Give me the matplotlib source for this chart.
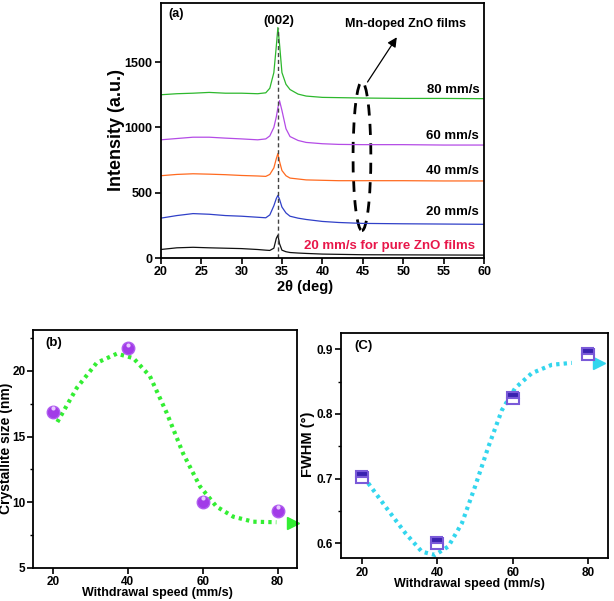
import matplotlib
matplotlib.use("Agg")
import matplotlib.pyplot as plt
from matplotlib.patches import Ellipse
from matplotlib.ticker import MultipleLocator
import numpy as np

plt.rcParams['font.family'] = ['Liberation Sans', 'DejaVu Sans']
plt.rcParams['font.weight'] = 'bold'

# ---- (a) XRD patterns ----
two_theta = [20, 22, 24, 26, 28, 30, 32, 33, 33.5, 34, 34.3, 34.5, 34.7, 35, 35.5,
             36, 37, 38, 40, 42, 45, 50, 55, 60]
xrd_80 = [1250, 1258, 1262, 1268, 1262, 1262, 1258, 1265, 1300, 1420, 1620, 1765, 1640,
          1420, 1330, 1290, 1255, 1240, 1230, 1228, 1225, 1222, 1222, 1220]
xrd_60 = [905, 915, 925, 925, 918, 912, 905, 912, 935, 1000, 1080, 1150, 1205,
          1130, 990, 930, 900, 885, 875, 870, 868, 868, 865, 865]
xrd_40 = [630, 640, 645, 642, 638, 632, 628, 625, 640, 690, 760, 800, 740,
          670, 630, 612, 605, 598, 595, 592, 592, 592, 590, 590]
xrd_20 = [305, 325, 340, 335, 325, 320, 312, 308, 330, 400, 455, 480, 450,
          390, 345, 320, 305, 295, 280, 272, 265, 262, 260, 258]
xrd_pure = [65, 78, 82, 78, 75, 72, 65, 60, 58, 75, 150, 175, 110,
            60, 48, 42, 38, 35, 30, 28, 25, 24, 23, 22]
trace_labels = ['80 mm/s', '60 mm/s', '40 mm/s', '20 mm/s']
trace_label_y = [1286, 934, 668, 352]

# ---- (b) crystallite size ----
speed = [20, 40, 60, 80]
cryst_size = [16.9, 21.7, 10.05, 9.36]
trend_b_x = [21.2, 26.4, 31.7, 37.1, 41.5, 45.9, 50.4, 54.8, 59.3, 63.7, 68.2, 73.5, 79.7]
trend_b_y = [16.1, 18.7, 20.6, 21.3, 20.96, 19.6, 16.8, 13.7, 11.2, 9.67, 8.9, 8.52, 8.48]
tip_b = (84.2, 8.45)

# ---- (c) FWHM ----
fwhm = [0.703, 0.601, 0.825, 0.892]
trend_c_x = [21.7, 27.0, 31.5, 35.9, 39.4, 42.9, 46.5, 50.0, 53.5, 57.1, 60.6, 65.0, 70.3, 75.6]
trend_c_y = [0.693, 0.651, 0.616, 0.587, 0.582, 0.595, 0.631, 0.688, 0.749, 0.806, 0.84,
             0.863, 0.876, 0.879]
tip_c = (82.7, 0.879)

W, H = 614, 601
fig = plt.figure(figsize=(W / 100, H / 100), dpi=100)


def frac(left, top, right, bottom):
    return [left / W, 1 - bottom / H, (right - left) / W, (bottom - top) / H]


def style(ax, lw=1.3):
    for s in ax.spines.values():
        s.set_linewidth(lw)
    ax.tick_params(direction='out', length=4, width=1.2, labelsize=8.5, pad=2,
                   top=False, right=False)
    ax.tick_params(which='minor', direction='out', length=2.5, width=1)
    for t in ax.get_xticklabels() + ax.get_yticklabels():
        t.set_fontweight('bold')


# panel (a)
ax1 = fig.add_axes(frac(160.7, 2.7, 484, 258))
colors = ['#2db82d', '#b44be6', '#ff6a1f', '#3040c8', '#111111']
for ys, c in zip([xrd_80, xrd_60, xrd_40, xrd_20, xrd_pure], colors):
    ax1.plot(two_theta, ys, color=c, lw=0.9)
ax1.plot([34.5, 34.5], [0, 1760], color='#444444', lw=1, ls=(0, (3, 2)))
ax1.set_xlim(20, 60)
ax1.set_ylim(0, 1955)
ax1.set_xticks(range(20, 61, 5))
ax1.set_yticks([0, 500, 1000, 1500])
style(ax1)
ax1.tick_params(labelsize=9)
ax1.set_xlabel('2θ (deg)', fontsize=10.5, fontweight='bold')
ax1.xaxis.set_label_coords(0.448, -0.088)
ax1.set_ylabel('Intensity (a.u.)', fontsize=13, fontweight='bold')
ax1.yaxis.set_label_coords(-0.11, 0.5)
ax1.text(21.0, 1870, '(a)', fontsize=9, fontweight='bold', va='center')
ax1.text(34.6, 1817, '(002)', fontsize=9.5, fontweight='bold', ha='center', va='center')
for lab, y in zip(trace_labels, trace_label_y):
    ax1.text(59.4, y, lab, fontsize=9.5, fontweight='bold', ha='right', va='center')
ax1.text(48.3, 92, '20 mm/s for pure ZnO films', fontsize=9.5, fontweight='bold',
         ha='center', va='center', color='#e8174a')
ax1.add_patch(Ellipse((44.9, 780), 2.2, 1140, fill=False, ec='black', lw=2, ls=(0, (4, 3))))
ax1.annotate('', xy=(49.4, 1708), xytext=(45.4, 1330),
             arrowprops=dict(arrowstyle='-|>', color='black', lw=0.9, mutation_scale=14))
ax1.text(50.3, 1792, 'Mn-doped ZnO films', fontsize=9, fontweight='bold', ha='center', va='center')

# panel (b)
ax2 = fig.add_axes(frac(33, 330, 297, 568))
ax2.plot(trend_b_x, trend_b_y, color='#33ee33', lw=3, ls=(0, (0.8, 1.0)))
ax2.plot([tip_b[0]], [tip_b[1]], marker='>', ms=9, color='#33ee33', ls='none', clip_on=False)
ax2.plot(speed, cryst_size, 'o', ms=9, color='#a23be8', mec='#b05df0', ls='none')
ax2.plot(speed, np.array(cryst_size) + 0.25, 'o', ms=3, color='#e8c8ff', mec='none', ls='none')
ax2.set_xlim(14.7, 85.2)
ax2.set_ylim(5, 23.1)
ax2.set_xticks([20, 40, 60, 80])
ax2.set_yticks([5, 10, 15, 20])
ax2.yaxis.set_minor_locator(MultipleLocator(2.5))
style(ax2)
ax2.tick_params(axis='y', pad=1.5)
ax2.set_xlabel('Withdrawal speed (mm/s)', fontsize=9, fontweight='bold')
ax2.xaxis.set_label_coords(0.47, -0.079)
ax2.set_ylabel('Crystallite size (nm)', fontsize=10, fontweight='bold')
ax2.yaxis.set_label_coords(-0.076, 0.503)
ax2.text(0.045, 0.945, '(b)', transform=ax2.transAxes, fontsize=9.5, fontweight='bold', va='center')

# panel (c)
ax3 = fig.add_axes(frac(341, 333.3, 607.7, 558.3))
ax3.plot(trend_c_x, trend_c_y, color='#33d6ee', lw=3, ls=(0, (0.8, 1.0)))
ax3.plot([tip_c[0]], [tip_c[1]], marker='>', ms=9, color='#33d6ee', ls='none', clip_on=False)
ax3.plot(speed, fwhm, 's', ms=8, fillstyle='top', mfc='#3a22b0', mfcalt='white',
         mec='#7a5ad8', mew=1.5, ls='none')
ax3.set_xlim(14.5, 85.1)
ax3.set_ylim(0.5768, 0.9247)
ax3.set_xticks([20, 40, 60, 80])
ax3.set_yticks([0.6, 0.7, 0.8, 0.9])
ax3.yaxis.set_minor_locator(MultipleLocator(0.05))
style(ax3)
ax3.set_xlabel('Withdrawal speed (mm/s)', fontsize=9, fontweight='bold')
ax3.xaxis.set_label_coords(0.48, -0.089)
ax3.set_ylabel('FWHM (°)', fontsize=10.5, fontweight='bold')
ax3.yaxis.set_label_coords(-0.097, 0.508)
ax3.text(0.052, 0.943, '(C)', transform=ax3.transAxes, fontsize=9.5, fontweight='bold', va='center')

fig.savefig('out.png', dpi=100)
